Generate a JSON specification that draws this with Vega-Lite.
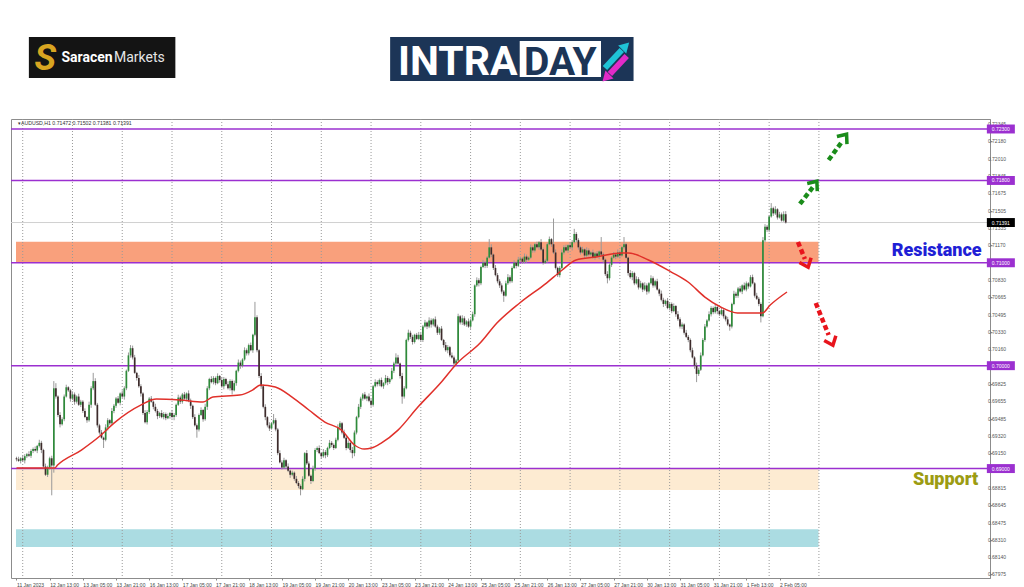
{
"$schema": "https://vega.github.io/schema/vega-lite/v6.json",
"width": 979, "height": 459,
"autosize": {"type": "none"},
"padding": {"left": 11, "top": 119, "right": 34, "bottom": 9},
"background": "white",
"config": {"view": {"stroke": "#8c8c8c", "strokeWidth": 1}, "text": {"font": "Liberation Sans"}, "axis": {"labelOverlap": false}},
"datasets": {
"candles": [
{"i":0,"o":0.69100,"h":0.69115,"l":0.69070,"c":0.69090},
{"i":1,"o":0.69090,"h":0.69115,"l":0.69065,"c":0.69075},
{"i":2,"o":0.69075,"h":0.69110,"l":0.69050,"c":0.69100},
{"i":3,"o":0.69100,"h":0.69130,"l":0.69065,"c":0.69080},
{"i":4,"o":0.69080,"h":0.69140,"l":0.69050,"c":0.69120},
{"i":5,"o":0.69120,"h":0.69152,"l":0.69102,"c":0.69140},
{"i":6,"o":0.69140,"h":0.69168,"l":0.69113,"c":0.69125},
{"i":7,"o":0.69125,"h":0.69188,"l":0.69103,"c":0.69170},
{"i":8,"o":0.69170,"h":0.69205,"l":0.69150,"c":0.69190},
{"i":9,"o":0.69190,"h":0.69215,"l":0.69165,"c":0.69175},
{"i":10,"o":0.69175,"h":0.69230,"l":0.69150,"c":0.69220},
{"i":11,"o":0.69220,"h":0.69280,"l":0.69205,"c":0.69250},
{"i":12,"o":0.69250,"h":0.69270,"l":0.69150,"c":0.69180},
{"i":13,"o":0.69180,"h":0.69192,"l":0.69000,"c":0.69020},
{"i":14,"o":0.69020,"h":0.69048,"l":0.68928,"c":0.68940},
{"i":15,"o":0.68940,"h":0.69028,"l":0.68918,"c":0.69010},
{"i":16,"o":0.69010,"h":0.69115,"l":0.68990,"c":0.69100},
{"i":17,"o":0.69100,"h":0.69125,"l":0.68740,"c":0.69030},
{"i":18,"o":0.69030,"h":0.69850,"l":0.68960,"c":0.69780},
{"i":19,"o":0.69780,"h":0.69830,"l":0.69680,"c":0.69700},
{"i":20,"o":0.69700,"h":0.69712,"l":0.69500,"c":0.69520},
{"i":21,"o":0.69520,"h":0.69548,"l":0.69400,"c":0.69430},
{"i":22,"o":0.69430,"h":0.69498,"l":0.69418,"c":0.69480},
{"i":23,"o":0.69480,"h":0.69720,"l":0.69460,"c":0.69700},
{"i":24,"o":0.69700,"h":0.69815,"l":0.69690,"c":0.69790},
{"i":25,"o":0.69790,"h":0.69800,"l":0.69745,"c":0.69760},
{"i":26,"o":0.69760,"h":0.69775,"l":0.69650,"c":0.69680},
{"i":27,"o":0.69680,"h":0.69750,"l":0.69665,"c":0.69720},
{"i":28,"o":0.69720,"h":0.69740,"l":0.69620,"c":0.69650},
{"i":29,"o":0.69650,"h":0.69712,"l":0.69632,"c":0.69700},
{"i":30,"o":0.69700,"h":0.69728,"l":0.69608,"c":0.69620},
{"i":31,"o":0.69620,"h":0.69668,"l":0.69598,"c":0.69650},
{"i":32,"o":0.69650,"h":0.69665,"l":0.69540,"c":0.69560},
{"i":33,"o":0.69560,"h":0.69585,"l":0.69490,"c":0.69500},
{"i":34,"o":0.69500,"h":0.69510,"l":0.69445,"c":0.69470},
{"i":35,"o":0.69470,"h":0.69650,"l":0.69455,"c":0.69620},
{"i":36,"o":0.69620,"h":0.69800,"l":0.69590,"c":0.69780},
{"i":37,"o":0.69780,"h":0.69930,"l":0.69762,"c":0.69850},
{"i":38,"o":0.69850,"h":0.69878,"l":0.69608,"c":0.69620},
{"i":39,"o":0.69620,"h":0.69638,"l":0.69398,"c":0.69420},
{"i":40,"o":0.69420,"h":0.69435,"l":0.69330,"c":0.69350},
{"i":41,"o":0.69350,"h":0.69375,"l":0.69290,"c":0.69300},
{"i":42,"o":0.69300,"h":0.69310,"l":0.69200,"c":0.69280},
{"i":43,"o":0.69280,"h":0.69430,"l":0.69265,"c":0.69400},
{"i":44,"o":0.69400,"h":0.69490,"l":0.69370,"c":0.69470},
{"i":45,"o":0.69470,"h":0.69482,"l":0.69422,"c":0.69440},
{"i":46,"o":0.69440,"h":0.69588,"l":0.69428,"c":0.69560},
{"i":47,"o":0.69560,"h":0.69628,"l":0.69538,"c":0.69610},
{"i":48,"o":0.69610,"h":0.69695,"l":0.69590,"c":0.69680},
{"i":49,"o":0.69680,"h":0.69705,"l":0.69630,"c":0.69640},
{"i":50,"o":0.69640,"h":0.69740,"l":0.69615,"c":0.69730},
{"i":51,"o":0.69730,"h":0.69760,"l":0.69685,"c":0.69700},
{"i":52,"o":0.69700,"h":0.69800,"l":0.69670,"c":0.69780},
{"i":53,"o":0.69780,"h":0.69962,"l":0.69762,"c":0.69950},
{"i":54,"o":0.69950,"h":0.70128,"l":0.69938,"c":0.70100},
{"i":55,"o":0.70100,"h":0.70200,"l":0.70078,"c":0.70170},
{"i":56,"o":0.70170,"h":0.70195,"l":0.70060,"c":0.70080},
{"i":57,"o":0.70080,"h":0.70105,"l":0.69920,"c":0.69930},
{"i":58,"o":0.69930,"h":0.69940,"l":0.69855,"c":0.69880},
{"i":59,"o":0.69880,"h":0.69910,"l":0.69785,"c":0.69800},
{"i":60,"o":0.69800,"h":0.69820,"l":0.69700,"c":0.69730},
{"i":61,"o":0.69730,"h":0.69742,"l":0.69522,"c":0.69540},
{"i":62,"o":0.69540,"h":0.69568,"l":0.69438,"c":0.69450},
{"i":63,"o":0.69450,"h":0.69568,"l":0.69428,"c":0.69550},
{"i":64,"o":0.69550,"h":0.69695,"l":0.69530,"c":0.69680},
{"i":65,"o":0.69680,"h":0.69705,"l":0.69640,"c":0.69650},
{"i":66,"o":0.69650,"h":0.69660,"l":0.69575,"c":0.69600},
{"i":67,"o":0.69600,"h":0.69630,"l":0.69545,"c":0.69560},
{"i":68,"o":0.69560,"h":0.69580,"l":0.69480,"c":0.69510},
{"i":69,"o":0.69510,"h":0.69552,"l":0.69492,"c":0.69540},
{"i":70,"o":0.69540,"h":0.69568,"l":0.69488,"c":0.69500},
{"i":71,"o":0.69500,"h":0.69548,"l":0.69478,"c":0.69530},
{"i":72,"o":0.69530,"h":0.69545,"l":0.69470,"c":0.69490},
{"i":73,"o":0.69490,"h":0.69535,"l":0.69480,"c":0.69510},
{"i":74,"o":0.69510,"h":0.69550,"l":0.69485,"c":0.69540},
{"i":75,"o":0.69540,"h":0.69570,"l":0.69485,"c":0.69500},
{"i":76,"o":0.69500,"h":0.69540,"l":0.69470,"c":0.69520},
{"i":77,"o":0.69520,"h":0.69632,"l":0.69502,"c":0.69620},
{"i":78,"o":0.69620,"h":0.69718,"l":0.69608,"c":0.69690},
{"i":79,"o":0.69690,"h":0.69708,"l":0.69628,"c":0.69650},
{"i":80,"o":0.69650,"h":0.69735,"l":0.69630,"c":0.69720},
{"i":81,"o":0.69720,"h":0.69745,"l":0.69670,"c":0.69680},
{"i":82,"o":0.69680,"h":0.69740,"l":0.69655,"c":0.69730},
{"i":83,"o":0.69730,"h":0.69760,"l":0.69645,"c":0.69660},
{"i":84,"o":0.69660,"h":0.69680,"l":0.69580,"c":0.69610},
{"i":85,"o":0.69610,"h":0.69622,"l":0.69482,"c":0.69500},
{"i":86,"o":0.69500,"h":0.69528,"l":0.69408,"c":0.69420},
{"i":87,"o":0.69420,"h":0.69438,"l":0.69300,"c":0.69380},
{"i":88,"o":0.69380,"h":0.69535,"l":0.69360,"c":0.69520},
{"i":89,"o":0.69520,"h":0.69595,"l":0.69510,"c":0.69570},
{"i":90,"o":0.69570,"h":0.69580,"l":0.69455,"c":0.69480},
{"i":91,"o":0.69480,"h":0.69630,"l":0.69465,"c":0.69600},
{"i":92,"o":0.69600,"h":0.69800,"l":0.69570,"c":0.69780},
{"i":93,"o":0.69780,"h":0.69882,"l":0.69762,"c":0.69870},
{"i":94,"o":0.69870,"h":0.69898,"l":0.69828,"c":0.69840},
{"i":95,"o":0.69840,"h":0.69898,"l":0.69818,"c":0.69880},
{"i":96,"o":0.69880,"h":0.69895,"l":0.69810,"c":0.69830},
{"i":97,"o":0.69830,"h":0.69925,"l":0.69820,"c":0.69900},
{"i":98,"o":0.69900,"h":0.69910,"l":0.69835,"c":0.69860},
{"i":99,"o":0.69860,"h":0.69890,"l":0.69785,"c":0.69800},
{"i":100,"o":0.69800,"h":0.69890,"l":0.69770,"c":0.69870},
{"i":101,"o":0.69870,"h":0.69882,"l":0.69802,"c":0.69820},
{"i":102,"o":0.69820,"h":0.69848,"l":0.69768,"c":0.69780},
{"i":103,"o":0.69780,"h":0.69868,"l":0.69758,"c":0.69850},
{"i":104,"o":0.69850,"h":0.69865,"l":0.69720,"c":0.69760},
{"i":105,"o":0.69760,"h":0.69855,"l":0.69750,"c":0.69830},
{"i":106,"o":0.69830,"h":0.69960,"l":0.69805,"c":0.69950},
{"i":107,"o":0.69950,"h":0.70060,"l":0.69935,"c":0.70030},
{"i":108,"o":0.70030,"h":0.70050,"l":0.69970,"c":0.70000},
{"i":109,"o":0.70000,"h":0.70072,"l":0.69982,"c":0.70060},
{"i":110,"o":0.70060,"h":0.70178,"l":0.70048,"c":0.70150},
{"i":111,"o":0.70150,"h":0.70168,"l":0.70098,"c":0.70120},
{"i":112,"o":0.70120,"h":0.70215,"l":0.70100,"c":0.70200},
{"i":113,"o":0.70200,"h":0.70225,"l":0.70140,"c":0.70150},
{"i":114,"o":0.70150,"h":0.70310,"l":0.70125,"c":0.70300},
{"i":115,"o":0.70300,"h":0.70620,"l":0.70285,"c":0.70470},
{"i":116,"o":0.70470,"h":0.70490,"l":0.70130,"c":0.70150},
{"i":117,"o":0.70150,"h":0.70160,"l":0.69880,"c":0.69900},
{"i":118,"o":0.69900,"h":0.69928,"l":0.69775,"c":0.69800},
{"i":119,"o":0.69800,"h":0.69818,"l":0.69585,"c":0.69600},
{"i":120,"o":0.69600,"h":0.69625,"l":0.69470,"c":0.69500},
{"i":121,"o":0.69500,"h":0.69510,"l":0.69400,"c":0.69420},
{"i":122,"o":0.69420,"h":0.69450,"l":0.69365,"c":0.69390},
{"i":123,"o":0.69390,"h":0.69452,"l":0.69378,"c":0.69440},
{"i":124,"o":0.69440,"h":0.69530,"l":0.69428,"c":0.69470},
{"i":125,"o":0.69470,"h":0.69490,"l":0.69362,"c":0.69380},
{"i":126,"o":0.69380,"h":0.69395,"l":0.69130,"c":0.69150},
{"i":127,"o":0.69150,"h":0.69178,"l":0.69050,"c":0.69060},
{"i":128,"o":0.69060,"h":0.69080,"l":0.68990,"c":0.69010},
{"i":129,"o":0.69010,"h":0.69105,"l":0.68995,"c":0.69080},
{"i":130,"o":0.69080,"h":0.69090,"l":0.68995,"c":0.69020},
{"i":131,"o":0.69020,"h":0.69050,"l":0.68965,"c":0.68980},
{"i":132,"o":0.68980,"h":0.68990,"l":0.68910,"c":0.68940},
{"i":133,"o":0.68940,"h":0.68980,"l":0.68925,"c":0.68960},
{"i":134,"o":0.68960,"h":0.68972,"l":0.68882,"c":0.68900},
{"i":135,"o":0.68900,"h":0.68928,"l":0.68848,"c":0.68860},
{"i":136,"o":0.68860,"h":0.68878,"l":0.68808,"c":0.68830},
{"i":137,"o":0.68830,"h":0.68845,"l":0.68740,"c":0.68800},
{"i":138,"o":0.68800,"h":0.68925,"l":0.68790,"c":0.68900},
{"i":139,"o":0.68900,"h":0.69160,"l":0.68875,"c":0.69150},
{"i":140,"o":0.69150,"h":0.69180,"l":0.69035,"c":0.69050},
{"i":141,"o":0.69050,"h":0.69070,"l":0.68920,"c":0.68930},
{"i":142,"o":0.68930,"h":0.68942,"l":0.68850,"c":0.68880},
{"i":143,"o":0.68880,"h":0.69028,"l":0.68868,"c":0.69000},
{"i":144,"o":0.69000,"h":0.69198,"l":0.68978,"c":0.69180},
{"i":145,"o":0.69180,"h":0.69215,"l":0.69160,"c":0.69200},
{"i":146,"o":0.69200,"h":0.69225,"l":0.69140,"c":0.69150},
{"i":147,"o":0.69150,"h":0.69160,"l":0.69095,"c":0.69120},
{"i":148,"o":0.69120,"h":0.69190,"l":0.69105,"c":0.69160},
{"i":149,"o":0.69160,"h":0.69180,"l":0.69100,"c":0.69130},
{"i":150,"o":0.69130,"h":0.69212,"l":0.69112,"c":0.69200},
{"i":151,"o":0.69200,"h":0.69278,"l":0.69188,"c":0.69250},
{"i":152,"o":0.69250,"h":0.69268,"l":0.69208,"c":0.69230},
{"i":153,"o":0.69230,"h":0.69245,"l":0.69180,"c":0.69200},
{"i":154,"o":0.69200,"h":0.69300,"l":0.69190,"c":0.69280},
{"i":155,"o":0.69280,"h":0.69430,"l":0.69265,"c":0.69400},
{"i":156,"o":0.69400,"h":0.69460,"l":0.69370,"c":0.69440},
{"i":157,"o":0.69440,"h":0.69452,"l":0.69332,"c":0.69350},
{"i":158,"o":0.69350,"h":0.69378,"l":0.69288,"c":0.69300},
{"i":159,"o":0.69300,"h":0.69318,"l":0.69178,"c":0.69200},
{"i":160,"o":0.69200,"h":0.69275,"l":0.69190,"c":0.69250},
{"i":161,"o":0.69250,"h":0.69260,"l":0.69155,"c":0.69180},
{"i":162,"o":0.69180,"h":0.69210,"l":0.69100,"c":0.69150},
{"i":163,"o":0.69150,"h":0.69370,"l":0.69120,"c":0.69350},
{"i":164,"o":0.69350,"h":0.69512,"l":0.69332,"c":0.69500},
{"i":165,"o":0.69500,"h":0.69628,"l":0.69488,"c":0.69600},
{"i":166,"o":0.69600,"h":0.69698,"l":0.69578,"c":0.69680},
{"i":167,"o":0.69680,"h":0.69735,"l":0.69660,"c":0.69720},
{"i":168,"o":0.69720,"h":0.69745,"l":0.69670,"c":0.69680},
{"i":169,"o":0.69680,"h":0.69710,"l":0.69655,"c":0.69700},
{"i":170,"o":0.69700,"h":0.69730,"l":0.69645,"c":0.69660},
{"i":171,"o":0.69660,"h":0.69680,"l":0.69600,"c":0.69620},
{"i":172,"o":0.69620,"h":0.69812,"l":0.69602,"c":0.69800},
{"i":173,"o":0.69800,"h":0.69868,"l":0.69788,"c":0.69840},
{"i":174,"o":0.69840,"h":0.69858,"l":0.69798,"c":0.69820},
{"i":175,"o":0.69820,"h":0.69875,"l":0.69800,"c":0.69860},
{"i":176,"o":0.69860,"h":0.69885,"l":0.69790,"c":0.69800},
{"i":177,"o":0.69800,"h":0.69840,"l":0.69775,"c":0.69830},
{"i":178,"o":0.69830,"h":0.69910,"l":0.69815,"c":0.69880},
{"i":179,"o":0.69880,"h":0.69900,"l":0.69810,"c":0.69840},
{"i":180,"o":0.69840,"h":0.69882,"l":0.69822,"c":0.69870},
{"i":181,"o":0.69870,"h":0.69978,"l":0.69858,"c":0.69950},
{"i":182,"o":0.69950,"h":0.70038,"l":0.69928,"c":0.70020},
{"i":183,"o":0.70020,"h":0.70120,"l":0.70005,"c":0.70080},
{"i":184,"o":0.70080,"h":0.70105,"l":0.70010,"c":0.70020},
{"i":185,"o":0.70020,"h":0.70030,"l":0.69875,"c":0.69900},
{"i":186,"o":0.69900,"h":0.69930,"l":0.69630,"c":0.69700},
{"i":187,"o":0.69700,"h":0.69800,"l":0.69680,"c":0.69780},
{"i":188,"o":0.69780,"h":0.70262,"l":0.69770,"c":0.70250},
{"i":189,"o":0.70250,"h":0.70350,"l":0.70235,"c":0.70320},
{"i":190,"o":0.70320,"h":0.70340,"l":0.70260,"c":0.70280},
{"i":191,"o":0.70280,"h":0.70300,"l":0.70205,"c":0.70230},
{"i":192,"o":0.70230,"h":0.70310,"l":0.70215,"c":0.70300},
{"i":193,"o":0.70300,"h":0.70318,"l":0.70250,"c":0.70260},
{"i":194,"o":0.70260,"h":0.70328,"l":0.70248,"c":0.70300},
{"i":195,"o":0.70300,"h":0.70318,"l":0.70235,"c":0.70250},
{"i":196,"o":0.70250,"h":0.70395,"l":0.70230,"c":0.70380},
{"i":197,"o":0.70380,"h":0.70445,"l":0.70370,"c":0.70420},
{"i":198,"o":0.70420,"h":0.70430,"l":0.70355,"c":0.70380},
{"i":199,"o":0.70380,"h":0.70470,"l":0.70365,"c":0.70440},
{"i":200,"o":0.70440,"h":0.70460,"l":0.70370,"c":0.70400},
{"i":201,"o":0.70400,"h":0.70462,"l":0.70382,"c":0.70450},
{"i":202,"o":0.70450,"h":0.70478,"l":0.70368,"c":0.70380},
{"i":203,"o":0.70380,"h":0.70398,"l":0.70298,"c":0.70320},
{"i":204,"o":0.70320,"h":0.70375,"l":0.70300,"c":0.70360},
{"i":205,"o":0.70360,"h":0.70385,"l":0.70240,"c":0.70250},
{"i":206,"o":0.70250,"h":0.70260,"l":0.70175,"c":0.70200},
{"i":207,"o":0.70200,"h":0.70230,"l":0.70135,"c":0.70150},
{"i":208,"o":0.70150,"h":0.70200,"l":0.70120,"c":0.70180},
{"i":209,"o":0.70180,"h":0.70192,"l":0.70082,"c":0.70100},
{"i":210,"o":0.70100,"h":0.70128,"l":0.70068,"c":0.70080},
{"i":211,"o":0.70080,"h":0.70098,"l":0.69990,"c":0.70020},
{"i":212,"o":0.70020,"h":0.70065,"l":0.70000,"c":0.70050},
{"i":213,"o":0.70050,"h":0.70505,"l":0.70040,"c":0.70480},
{"i":214,"o":0.70480,"h":0.70492,"l":0.70400,"c":0.70420},
{"i":215,"o":0.70420,"h":0.70490,"l":0.70395,"c":0.70460},
{"i":216,"o":0.70460,"h":0.70480,"l":0.70385,"c":0.70400},
{"i":217,"o":0.70400,"h":0.70442,"l":0.70378,"c":0.70430},
{"i":218,"o":0.70430,"h":0.70458,"l":0.70368,"c":0.70380},
{"i":219,"o":0.70380,"h":0.70458,"l":0.70358,"c":0.70440},
{"i":220,"o":0.70440,"h":0.70525,"l":0.70430,"c":0.70500},
{"i":221,"o":0.70500,"h":0.70790,"l":0.70475,"c":0.70780},
{"i":222,"o":0.70780,"h":0.70858,"l":0.70765,"c":0.70830},
{"i":223,"o":0.70830,"h":0.70850,"l":0.70770,"c":0.70800},
{"i":224,"o":0.70800,"h":0.70972,"l":0.70782,"c":0.70960},
{"i":225,"o":0.70960,"h":0.71028,"l":0.70948,"c":0.71000},
{"i":226,"o":0.71000,"h":0.71018,"l":0.70948,"c":0.70970},
{"i":227,"o":0.70970,"h":0.71065,"l":0.70950,"c":0.71050},
{"i":228,"o":0.71050,"h":0.71230,"l":0.71040,"c":0.71150},
{"i":229,"o":0.71150,"h":0.71180,"l":0.71055,"c":0.71080},
{"i":230,"o":0.71080,"h":0.71090,"l":0.70930,"c":0.70950},
{"i":231,"o":0.70950,"h":0.70978,"l":0.70868,"c":0.70880},
{"i":232,"o":0.70880,"h":0.70900,"l":0.70800,"c":0.70820},
{"i":233,"o":0.70820,"h":0.70840,"l":0.70755,"c":0.70780},
{"i":234,"o":0.70780,"h":0.70800,"l":0.70700,"c":0.70720},
{"i":235,"o":0.70720,"h":0.70735,"l":0.70620,"c":0.70680},
{"i":236,"o":0.70680,"h":0.70825,"l":0.70670,"c":0.70800},
{"i":237,"o":0.70800,"h":0.70890,"l":0.70785,"c":0.70860},
{"i":238,"o":0.70860,"h":0.70878,"l":0.70800,"c":0.70820},
{"i":239,"o":0.70820,"h":0.70965,"l":0.70805,"c":0.70950},
{"i":240,"o":0.70950,"h":0.71025,"l":0.70940,"c":0.71000},
{"i":241,"o":0.71000,"h":0.71012,"l":0.70945,"c":0.70970},
{"i":242,"o":0.70970,"h":0.71058,"l":0.70958,"c":0.71030},
{"i":243,"o":0.71030,"h":0.71060,"l":0.71008,"c":0.71040},
{"i":244,"o":0.71040,"h":0.71055,"l":0.70990,"c":0.71010},
{"i":245,"o":0.71010,"h":0.71090,"l":0.70995,"c":0.71060},
{"i":246,"o":0.71060,"h":0.71080,"l":0.71000,"c":0.71030},
{"i":247,"o":0.71030,"h":0.71062,"l":0.71018,"c":0.71050},
{"i":248,"o":0.71050,"h":0.71178,"l":0.71038,"c":0.71150},
{"i":249,"o":0.71150,"h":0.71168,"l":0.71098,"c":0.71120},
{"i":250,"o":0.71120,"h":0.71195,"l":0.71100,"c":0.71180},
{"i":251,"o":0.71180,"h":0.71205,"l":0.71140,"c":0.71150},
{"i":252,"o":0.71150,"h":0.71210,"l":0.71125,"c":0.71200},
{"i":253,"o":0.71200,"h":0.71230,"l":0.71115,"c":0.71130},
{"i":254,"o":0.71130,"h":0.71148,"l":0.70982,"c":0.71000},
{"i":255,"o":0.71000,"h":0.71038,"l":0.70988,"c":0.71020},
{"i":256,"o":0.71020,"h":0.71195,"l":0.71000,"c":0.71180},
{"i":257,"o":0.71180,"h":0.71255,"l":0.71170,"c":0.71230},
{"i":258,"o":0.71230,"h":0.71240,"l":0.71155,"c":0.71180},
{"i":259,"o":0.71180,"h":0.71430,"l":0.71085,"c":0.71100},
{"i":260,"o":0.71100,"h":0.71130,"l":0.70935,"c":0.70950},
{"i":261,"o":0.70950,"h":0.70962,"l":0.70862,"c":0.70880},
{"i":262,"o":0.70880,"h":0.70968,"l":0.70858,"c":0.70950},
{"i":263,"o":0.70950,"h":0.71128,"l":0.70938,"c":0.71100},
{"i":264,"o":0.71100,"h":0.71170,"l":0.71080,"c":0.71150},
{"i":265,"o":0.71150,"h":0.71175,"l":0.71110,"c":0.71120},
{"i":266,"o":0.71120,"h":0.71180,"l":0.71095,"c":0.71170},
{"i":267,"o":0.71170,"h":0.71200,"l":0.71135,"c":0.71150},
{"i":268,"o":0.71150,"h":0.71220,"l":0.71120,"c":0.71200},
{"i":269,"o":0.71200,"h":0.71330,"l":0.71188,"c":0.71280},
{"i":270,"o":0.71280,"h":0.71298,"l":0.71198,"c":0.71220},
{"i":271,"o":0.71220,"h":0.71238,"l":0.71128,"c":0.71150},
{"i":272,"o":0.71150,"h":0.71165,"l":0.71080,"c":0.71100},
{"i":273,"o":0.71100,"h":0.71155,"l":0.71090,"c":0.71130},
{"i":274,"o":0.71130,"h":0.71140,"l":0.71045,"c":0.71070},
{"i":275,"o":0.71070,"h":0.71150,"l":0.71055,"c":0.71120},
{"i":276,"o":0.71120,"h":0.71140,"l":0.71060,"c":0.71080},
{"i":277,"o":0.71080,"h":0.71112,"l":0.71062,"c":0.71100},
{"i":278,"o":0.71100,"h":0.71128,"l":0.71038,"c":0.71050},
{"i":279,"o":0.71050,"h":0.71105,"l":0.71030,"c":0.71090},
{"i":280,"o":0.71090,"h":0.71115,"l":0.71050,"c":0.71060},
{"i":281,"o":0.71060,"h":0.71120,"l":0.71035,"c":0.71110},
{"i":282,"o":0.71110,"h":0.71250,"l":0.71065,"c":0.71080},
{"i":283,"o":0.71080,"h":0.71100,"l":0.71000,"c":0.71030},
{"i":284,"o":0.71030,"h":0.71042,"l":0.70872,"c":0.70890},
{"i":285,"o":0.70890,"h":0.70918,"l":0.70800,"c":0.70850},
{"i":286,"o":0.70850,"h":0.70998,"l":0.70828,"c":0.70980},
{"i":287,"o":0.70980,"h":0.71065,"l":0.70960,"c":0.71050},
{"i":288,"o":0.71050,"h":0.71105,"l":0.71040,"c":0.71080},
{"i":289,"o":0.71080,"h":0.71092,"l":0.71035,"c":0.71060},
{"i":290,"o":0.71060,"h":0.71130,"l":0.71045,"c":0.71100},
{"i":291,"o":0.71100,"h":0.71120,"l":0.71040,"c":0.71070},
{"i":292,"o":0.71070,"h":0.71162,"l":0.71058,"c":0.71150},
{"i":293,"o":0.71150,"h":0.71250,"l":0.71130,"c":0.71180},
{"i":294,"o":0.71180,"h":0.71195,"l":0.71040,"c":0.71050},
{"i":295,"o":0.71050,"h":0.71060,"l":0.70875,"c":0.70900},
{"i":296,"o":0.70900,"h":0.70930,"l":0.70845,"c":0.70860},
{"i":297,"o":0.70860,"h":0.70918,"l":0.70830,"c":0.70900},
{"i":298,"o":0.70900,"h":0.70912,"l":0.70782,"c":0.70800},
{"i":299,"o":0.70800,"h":0.70868,"l":0.70788,"c":0.70840},
{"i":300,"o":0.70840,"h":0.70860,"l":0.70740,"c":0.70760},
{"i":301,"o":0.70760,"h":0.70825,"l":0.70750,"c":0.70800},
{"i":302,"o":0.70800,"h":0.70810,"l":0.70715,"c":0.70740},
{"i":303,"o":0.70740,"h":0.70810,"l":0.70725,"c":0.70780},
{"i":304,"o":0.70780,"h":0.70800,"l":0.70690,"c":0.70720},
{"i":305,"o":0.70720,"h":0.70812,"l":0.70702,"c":0.70800},
{"i":306,"o":0.70800,"h":0.70878,"l":0.70788,"c":0.70850},
{"i":307,"o":0.70850,"h":0.70868,"l":0.70758,"c":0.70780},
{"i":308,"o":0.70780,"h":0.70835,"l":0.70760,"c":0.70820},
{"i":309,"o":0.70820,"h":0.70845,"l":0.70730,"c":0.70740},
{"i":310,"o":0.70740,"h":0.70750,"l":0.70675,"c":0.70700},
{"i":311,"o":0.70700,"h":0.70730,"l":0.70625,"c":0.70640},
{"i":312,"o":0.70640,"h":0.70660,"l":0.70570,"c":0.70600},
{"i":313,"o":0.70600,"h":0.70642,"l":0.70582,"c":0.70630},
{"i":314,"o":0.70630,"h":0.70658,"l":0.70548,"c":0.70560},
{"i":315,"o":0.70560,"h":0.70618,"l":0.70538,"c":0.70600},
{"i":316,"o":0.70600,"h":0.70615,"l":0.70510,"c":0.70530},
{"i":317,"o":0.70530,"h":0.70605,"l":0.70520,"c":0.70580},
{"i":318,"o":0.70580,"h":0.70590,"l":0.70475,"c":0.70500},
{"i":319,"o":0.70500,"h":0.70530,"l":0.70435,"c":0.70450},
{"i":320,"o":0.70450,"h":0.70470,"l":0.70360,"c":0.70380},
{"i":321,"o":0.70380,"h":0.70420,"l":0.70355,"c":0.70400},
{"i":322,"o":0.70400,"h":0.70412,"l":0.70302,"c":0.70320},
{"i":323,"o":0.70320,"h":0.70348,"l":0.70268,"c":0.70280},
{"i":324,"o":0.70280,"h":0.70298,"l":0.70228,"c":0.70250},
{"i":325,"o":0.70250,"h":0.70265,"l":0.70130,"c":0.70150},
{"i":326,"o":0.70150,"h":0.70175,"l":0.70070,"c":0.70080},
{"i":327,"o":0.70080,"h":0.70092,"l":0.69970,"c":0.70000},
{"i":328,"o":0.70000,"h":0.70030,"l":0.69840,"c":0.69920},
{"i":329,"o":0.69920,"h":0.69980,"l":0.69900,"c":0.69960},
{"i":330,"o":0.69960,"h":0.70128,"l":0.69948,"c":0.70100},
{"i":331,"o":0.70100,"h":0.70268,"l":0.70090,"c":0.70250},
{"i":332,"o":0.70250,"h":0.70405,"l":0.70232,"c":0.70380},
{"i":333,"o":0.70380,"h":0.70452,"l":0.70368,"c":0.70440},
{"i":334,"o":0.70440,"h":0.70528,"l":0.70428,"c":0.70500},
{"i":335,"o":0.70500,"h":0.70578,"l":0.70478,"c":0.70560},
{"i":336,"o":0.70560,"h":0.70575,"l":0.70500,"c":0.70520},
{"i":337,"o":0.70520,"h":0.70600,"l":0.70505,"c":0.70570},
{"i":338,"o":0.70570,"h":0.70588,"l":0.70500,"c":0.70530},
{"i":339,"o":0.70530,"h":0.70542,"l":0.70482,"c":0.70500},
{"i":340,"o":0.70500,"h":0.70568,"l":0.70488,"c":0.70540},
{"i":341,"o":0.70540,"h":0.70558,"l":0.70458,"c":0.70480},
{"i":342,"o":0.70480,"h":0.70495,"l":0.70430,"c":0.70450},
{"i":343,"o":0.70450,"h":0.70475,"l":0.70385,"c":0.70400},
{"i":344,"o":0.70400,"h":0.70410,"l":0.70340,"c":0.70380},
{"i":345,"o":0.70380,"h":0.70612,"l":0.70362,"c":0.70600},
{"i":346,"o":0.70600,"h":0.70728,"l":0.70588,"c":0.70700},
{"i":347,"o":0.70700,"h":0.70718,"l":0.70658,"c":0.70680},
{"i":348,"o":0.70680,"h":0.70765,"l":0.70660,"c":0.70750},
{"i":349,"o":0.70750,"h":0.70775,"l":0.70710,"c":0.70720},
{"i":350,"o":0.70720,"h":0.70790,"l":0.70695,"c":0.70780},
{"i":351,"o":0.70780,"h":0.70808,"l":0.70728,"c":0.70740},
{"i":352,"o":0.70740,"h":0.70818,"l":0.70722,"c":0.70800},
{"i":353,"o":0.70800,"h":0.70812,"l":0.70748,"c":0.70770},
{"i":354,"o":0.70770,"h":0.70880,"l":0.70760,"c":0.70860},
{"i":355,"o":0.70860,"h":0.70885,"l":0.70790,"c":0.70800},
{"i":356,"o":0.70800,"h":0.70812,"l":0.70662,"c":0.70680},
{"i":357,"o":0.70680,"h":0.70708,"l":0.70638,"c":0.70650},
{"i":358,"o":0.70650,"h":0.70668,"l":0.70578,"c":0.70600},
{"i":359,"o":0.70600,"h":0.70615,"l":0.70420,"c":0.70480},
{"i":360,"o":0.70480,"h":0.71250,"l":0.70470,"c":0.71220},
{"i":361,"o":0.71220,"h":0.71375,"l":0.71200,"c":0.71350},
{"i":362,"o":0.71350,"h":0.71368,"l":0.71300,"c":0.71320},
{"i":363,"o":0.71320,"h":0.71462,"l":0.71298,"c":0.71450},
{"i":364,"o":0.71450,"h":0.71580,"l":0.71438,"c":0.71530},
{"i":365,"o":0.71530,"h":0.71545,"l":0.71455,"c":0.71480},
{"i":366,"o":0.71480,"h":0.71550,"l":0.71465,"c":0.71520},
{"i":367,"o":0.71520,"h":0.71530,"l":0.71420,"c":0.71440},
{"i":368,"o":0.71440,"h":0.71495,"l":0.71430,"c":0.71470},
{"i":369,"o":0.71470,"h":0.71488,"l":0.71400,"c":0.71410},
{"i":370,"o":0.71410,"h":0.71500,"l":0.71398,"c":0.71472},
{"i":371,"o":0.71472,"h":0.71502,"l":0.71381,"c":0.71391}
],
"ma": [
{"i":0,"ma":0.69005},{"i":18.4,"ma":0.69005},{"i":19.8,"ma":0.69034},{"i":31.3,"ma":0.6918},{"i":40.8,"ma":0.69326},{"i":47,"ma":0.69442},{"i":59.9,"ma":0.69617},{"i":67.5,"ma":0.69676},{"i":79,"ma":0.69666},{"i":90,"ma":0.69647},{"i":94.7,"ma":0.69695},{"i":107.6,"ma":0.69714},{"i":113.8,"ma":0.69763},{"i":117.7,"ma":0.69812},{"i":124.8,"ma":0.69792},{"i":132.9,"ma":0.69695},{"i":141,"ma":0.69569},{"i":148.7,"ma":0.69452},{"i":156.8,"ma":0.69374},{"i":163,"ma":0.69229},{"i":167.8,"ma":0.6919},{"i":171.1,"ma":0.69199},{"i":175.9,"ma":0.69248},{"i":184,"ma":0.69374},{"i":193.6,"ma":0.69598},{"i":204.5,"ma":0.69831},{"i":212.6,"ma":0.70026},{"i":223.6,"ma":0.7022},{"i":231.7,"ma":0.70414},{"i":242.7,"ma":0.70609},{"i":255.6,"ma":0.70803},{"i":263.2,"ma":0.7093},{"i":269.9,"ma":0.71027},{"i":279.5,"ma":0.71056},{"i":291.9,"ma":0.71095},{"i":295.2,"ma":0.71095},{"i":304.8,"ma":0.71027},{"i":315.8,"ma":0.7091},{"i":323.9,"ma":0.70813},{"i":332,"ma":0.70667},{"i":339.6,"ma":0.7057},{"i":347.7,"ma":0.70512},{"i":355.9,"ma":0.70512},{"i":359.7,"ma":0.70512},{"i":363.5,"ma":0.70589},{"i":371.6,"ma":0.70716}
],
"levels": [
{"level":0.723,"text":"0.72300"},{"level":0.718,"text":"0.71800"},{"level":0.71,"text":"0.71000"},{"level":0.7,"text":"0.70000"},{"level":0.69,"text":"0.69000"}
],
"yticks": [
{"tick":0.72345},{"tick":0.7218},{"tick":0.7201},{"tick":0.71845},{"tick":0.71675},{"tick":0.71505},{"tick":0.71335},{"tick":0.7117},{"tick":0.7083},{"tick":0.70665},{"tick":0.70495},{"tick":0.7033},{"tick":0.7016},{"tick":0.69825},{"tick":0.69655},{"tick":0.69485},{"tick":0.6932},{"tick":0.6915},{"tick":0.68815},{"tick":0.68645},{"tick":0.68475},{"tick":0.6831},{"tick":0.6814},{"tick":0.67975}
]
},
"layer": [
{"data": {"values": [{"zone":"resistance","lo":0.71,"hi":0.71205},{"zone":"support","lo":0.68792,"hi":0.69},{"zone":"demand","lo":0.68238,"hi":0.68411}]},
 "mark": {"type": "rect"},
 "encoding": {
  "x": {"datum": -0.24, "type": "quantitative", "scale": {"type":"linear","domain":[-0.24,467.1],"nice":false,"zero":false}},
  "x2": {"datum": 386.8},
  "y": {"field": "lo", "type": "quantitative", "scale": {"type":"linear","domain":[0.679365,0.723972],"nice":false,"zero":false}, "title": null},
  "y2": {"field": "hi"},
  "color": {"field": "zone", "type": "nominal", "scale": {"domain": ["resistance","support","demand"], "range": ["#F9A07C","#FDEBD2","#ABDCE2"]}, "legend": null}
 }},
{"data": {"values": [{"day":3},{"day":27},{"day":51},{"day":75},{"day":99},{"day":123},{"day":147},{"day":171},{"day":195},{"day":219},{"day":243},{"day":267},{"day":291},{"day":315},{"day":339},{"day":363},{"day":387}]},
 "mark": {"type": "rule", "color": "#9a9a9a", "strokeDash": [1, 2], "strokeWidth": 1},
 "encoding": {"x": {"field": "day", "type": "quantitative", "scale": {"type":"linear","domain":[-0.24,467.1],"nice":false,"zero":false}, "title": null}}},
{"data": {"values": [{"price": 0.71391}]},
 "mark": {"type": "rule", "color": "#d0d0d0", "strokeWidth": 1},
 "encoding": {"y": {"field": "price", "type": "quantitative", "scale": {"type":"linear","domain":[0.679365,0.723972],"nice":false,"zero":false}, "title": null}}},
{"data": {"name": "levels"},
 "mark": {"type": "rule", "color": "#9b30d0", "strokeWidth": 1.5},
 "encoding": {"y": {"field": "level", "type": "quantitative", "scale": {"type":"linear","domain":[0.679365,0.723972],"nice":false,"zero":false}, "title": null}}},
{"data": {"name": "candles"},
 "mark": {"type": "rule", "color": "#9a9a9a", "strokeWidth": 1},
 "encoding": {
  "x": {"field": "i", "type": "quantitative", "scale": {"type":"linear","domain":[-0.24,467.1],"nice":false,"zero":false},
        "axis": {"title": null, "values": [0,16,32,48,64,80,96,112,128,144,160,176,192,208,224,240,256,272,288,304,320,336,352,368],
                 "labelExpr": "['11 Jan 2023','12 Jan 13:00','13 Jan 05:00','13 Jan 21:00','16 Jan 13:00','17 Jan 05:00','17 Jan 21:00','18 Jan 13:00','19 Jan 05:00','19 Jan 21:00','20 Jan 13:00','23 Jan 05:00','23 Jan 21:00','24 Jan 13:00','25 Jan 05:00','25 Jan 21:00','26 Jan 13:00','27 Jan 05:00','27 Jan 21:00','30 Jan 13:00','31 Jan 05:00','31 Jan 21:00','1 Feb 13:00','2 Feb 05:00'][round(datum.value/16)]",
                 "labelAlign": "left", "labelFontSize": 5, "labelFont": "Liberation Sans", "labelColor": "#444444", "labelPadding": 2, "tickSize": 2, "tickColor": "#888888", "domain": false, "grid": false, "labelOverlap": false, "labelBound": false, "labelFlush": false}},
  "y": {"field": "l", "type": "quantitative", "scale": {"type":"linear","domain":[0.679365,0.723972],"nice":false,"zero":false},
        "axis": {"title": null, "orient": "right", "values": [0.72345,0.7218,0.7201,0.71845,0.71675,0.71505,0.71335,0.7117,0.7083,0.70665,0.70495,0.7033,0.7016,0.69825,0.69655,0.69485,0.6932,0.6915,0.68815,0.68645,0.68475,0.6831,0.6814,0.67975],
                 "labels": false, "tickSize": 2, "tickColor": "#888888", "domain": true, "domainColor": "#8c8c8c", "grid": false}},
  "y2": {"field": "h"}
 }},
{"data": {"name": "candles"},
 "mark": {"type": "bar", "width": 1.7},
 "encoding": {
  "x": {"field": "i", "type": "quantitative", "scale": {"type":"linear","domain":[-0.24,467.1],"nice":false,"zero":false}, "title": null},
  "y": {"field": "o", "type": "quantitative", "scale": {"type":"linear","domain":[0.679365,0.723972],"nice":false,"zero":false}, "title": null},
  "y2": {"field": "c"},
  "color": {"condition": {"test": "datum.c >= datum.o", "value": "#2e8b3a"}, "value": "#3d2b2b"}
 }},
{"data": {"name": "ma"},
 "mark": {"type": "line", "color": "#e0302a", "strokeWidth": 1.5, "interpolate": "monotone"},
 "encoding": {
  "x": {"field": "i", "type": "quantitative", "scale": {"type":"linear","domain":[-0.24,467.1],"nice":false,"zero":false}, "title": null},
  "y": {"field": "ma", "type": "quantitative", "scale": {"type":"linear","domain":[0.679365,0.723972],"nice":false,"zero":false}, "title": null}
 }},
{"data": {"name": "yticks"},
 "mark": {"type": "text", "fontSize": 5, "font": "Liberation Sans", "color": "#555555", "align": "left", "baseline": "middle"},
 "encoding": {
  "x": {"datum": 468.5, "type": "quantitative", "scale": {"type":"linear","domain":[-0.24,467.1],"nice":false,"zero":false}},
  "y": {"field": "tick", "type": "quantitative", "scale": {"type":"linear","domain":[0.679365,0.723972],"nice":false,"zero":false}, "title": null},
  "text": {"field": "tick", "type": "quantitative", "format": ".5f"}
 }},
{"data": {"values": [{"arrow":"g1","i":377.84,"p":0.715712},{"arrow":"g1","i":384.52,"p":0.717461},{"arrow":"g2","i":391.68,"p":0.719988},{"arrow":"g2","i":398.37,"p":0.721834}]},
 "mark": {"type": "line", "strokeWidth": 4.5, "strokeDash": [5, 3], "color": "#1a8c1a"},
 "encoding": {
  "x": {"field": "i", "type": "quantitative", "scale": {"type":"linear","domain":[-0.24,467.1],"nice":false,"zero":false}, "title": null},
  "y": {"field": "p", "type": "quantitative", "scale": {"type":"linear","domain":[0.679365,0.723972],"nice":false,"zero":false}, "title": null},
  "detail": {"field": "arrow", "type": "nominal"}
 }},
{"data": {"values": [{"arrow":"r1","i":376.89,"p":0.712019},{"arrow":"r1","i":380.23,"p":0.710367},{"arrow":"r2","i":385.48,"p":0.706091},{"arrow":"r2","i":391.68,"p":0.702981}]},
 "mark": {"type": "line", "strokeWidth": 4.5, "strokeDash": [5, 3], "color": "#e8141c"},
 "encoding": {
  "x": {"field": "i", "type": "quantitative", "scale": {"type":"linear","domain":[-0.24,467.1],"nice":false,"zero":false}, "title": null},
  "y": {"field": "p", "type": "quantitative", "scale": {"type":"linear","domain":[0.679365,0.723972],"nice":false,"zero":false}, "title": null},
  "detail": {"field": "arrow", "type": "nominal"}
 }},
{"data": {"values": [{"i":385.0,"p":0.717655},{"i":399.32,"p":0.722223}]},
 "mark": {"type": "point", "shape": "M -0.9 0.6 L 0 -0.5 L 0.9 0.6", "filled": false, "stroke": "#1a8c1a", "strokeWidth": 3.5, "size": 196, "angle": 37, "opacity": 1},
 "encoding": {
  "x": {"field": "i", "type": "quantitative", "scale": {"type":"linear","domain":[-0.24,467.1],"nice":false,"zero":false}, "title": null},
  "y": {"field": "p", "type": "quantitative", "scale": {"type":"linear","domain":[0.679365,0.723972],"nice":false,"zero":false}, "title": null}
 }},
{"data": {"values": [{"i":381.18,"p":0.709881},{"i":393.12,"p":0.702301}]},
 "mark": {"type": "point", "shape": "M -0.9 0.6 L 0 -0.5 L 0.9 0.6", "filled": false, "stroke": "#e8141c", "strokeWidth": 3.5, "size": 196, "angle": 158, "opacity": 1},
 "encoding": {
  "x": {"field": "i", "type": "quantitative", "scale": {"type":"linear","domain":[-0.24,467.1],"nice":false,"zero":false}, "title": null},
  "y": {"field": "p", "type": "quantitative", "scale": {"type":"linear","domain":[0.679365,0.723972],"nice":false,"zero":false}, "title": null}
 }},
{"data": {"values": [{"label":"Resistance","p":0.711144}]},
 "mark": {"type": "text", "font": "Roboto", "fontWeight": 900, "fontSize": 18, "align": "right", "baseline": "middle", "color": "#1f1fd6"},
 "encoding": {
  "x": {"datum": 465.5, "type": "quantitative", "scale": {"type":"linear","domain":[-0.24,467.1],"nice":false,"zero":false}},
  "y": {"field": "p", "type": "quantitative", "scale": {"type":"linear","domain":[0.679365,0.723972],"nice":false,"zero":false}, "title": null},
  "text": {"field": "label"}
 }},
{"data": {"values": [{"label":"Support","p":0.688889}]},
 "mark": {"type": "text", "font": "Roboto", "fontWeight": 900, "fontSize": 18, "align": "right", "baseline": "middle", "color": "#9c9c12"},
 "encoding": {
  "x": {"datum": 463.8, "type": "quantitative", "scale": {"type":"linear","domain":[-0.24,467.1],"nice":false,"zero":false}},
  "y": {"field": "p", "type": "quantitative", "scale": {"type":"linear","domain":[0.679365,0.723972],"nice":false,"zero":false}, "title": null},
  "text": {"field": "label"}
 }},
{"data": {"name": "levels"},
 "mark": {"type": "point", "shape": "M -1 -0.32 L 1 -0.32 L 1 0.32 L -1 0.32 Z", "filled": true, "color": "#9b30d0", "size": 784, "opacity": 1},
 "encoding": {
  "x": {"datum": 474.75, "type": "quantitative", "scale": {"type":"linear","domain":[-0.24,467.1],"nice":false,"zero":false}},
  "y": {"field": "level", "type": "quantitative", "scale": {"type":"linear","domain":[0.679365,0.723972],"nice":false,"zero":false}, "title": null}
 }},
{"data": {"name": "levels"},
 "mark": {"type": "text", "fontSize": 5, "color": "#ffffff", "align": "center", "baseline": "middle"},
 "encoding": {
  "x": {"datum": 474.75, "type": "quantitative", "scale": {"type":"linear","domain":[-0.24,467.1],"nice":false,"zero":false}},
  "y": {"field": "level", "type": "quantitative", "scale": {"type":"linear","domain":[0.679365,0.723972],"nice":false,"zero":false}, "title": null},
  "text": {"field": "text"}
 }},
{"data": {"values": [{"price":0.71391,"text":"0.71391"}]},
 "mark": {"type": "point", "shape": "M -1 -0.32 L 1 -0.32 L 1 0.32 L -1 0.32 Z", "filled": true, "color": "#000000", "size": 784, "opacity": 1},
 "encoding": {
  "x": {"datum": 474.75, "type": "quantitative", "scale": {"type":"linear","domain":[-0.24,467.1],"nice":false,"zero":false}},
  "y": {"field": "price", "type": "quantitative", "scale": {"type":"linear","domain":[0.679365,0.723972],"nice":false,"zero":false}, "title": null}
 }},
{"data": {"values": [{"price":0.71391,"text":"0.71391"}]},
 "mark": {"type": "text", "fontSize": 5, "color": "#ffffff", "align": "center", "baseline": "middle"},
 "encoding": {
  "x": {"datum": 474.75, "type": "quantitative", "scale": {"type":"linear","domain":[-0.24,467.1],"nice":false,"zero":false}},
  "y": {"field": "price", "type": "quantitative", "scale": {"type":"linear","domain":[0.679365,0.723972],"nice":false,"zero":false}, "title": null},
  "text": {"field": "text"}
 }},
{"data": {"values": [{"text":"▾AUDUSD,H1  0.71472 0.71502 0.71381 0.71391"}]},
 "mark": {"type": "text", "fontSize": 5.2, "color": "#333333", "align": "left", "baseline": "middle"},
 "encoding": {
  "x": {"datum": 0.7, "type": "quantitative", "scale": {"type":"linear","domain":[-0.24,467.1],"nice":false,"zero":false}},
  "y": {"datum": 0.72358, "type": "quantitative", "scale": {"type":"linear","domain":[0.679365,0.723972],"nice":false,"zero":false}},
  "text": {"field": "text"}
 }},
{"data": {"values": [{"logo":"Saracen Markets"}]},
 "mark": {"type": "rect", "color": "#141414"},
 "encoding": {
  "x": {"datum": 5.97, "type": "quantitative", "scale": {"type":"linear","domain":[-0.24,467.1],"nice":false,"zero":false}},
  "x2": {"datum": 76.62},
  "y": {"datum": 0.727956, "type": "quantitative", "scale": {"type":"linear","domain":[0.679365,0.723972],"nice":false,"zero":false}},
  "y2": {"datum": 0.731941}
 }},
{"data": {"values": [{"logo":"INTRADAY"}]},
 "mark": {"type": "rect", "color": "#1c3557"},
 "encoding": {
  "x": {"datum": 180.2, "type": "quantitative", "scale": {"type":"linear","domain":[-0.24,467.1],"nice":false,"zero":false}},
  "x2": {"datum": 297.6},
  "y": {"datum": 0.727665, "type": "quantitative", "scale": {"type":"linear","domain":[0.679365,0.723972],"nice":false,"zero":false}},
  "y2": {"datum": 0.731941}
 }},
{"data": {"values": [{"logo":"DAY box"}]},
 "mark": {"type": "rect", "color": "#ffffff"},
 "encoding": {
  "x": {"datum": 242.7, "type": "quantitative", "scale": {"type":"linear","domain":[-0.24,467.1],"nice":false,"zero":false}},
  "x2": {"datum": 281.9},
  "y": {"datum": 0.728054, "type": "quantitative", "scale": {"type":"linear","domain":[0.679365,0.723972],"nice":false,"zero":false}},
  "y2": {"datum": 0.731552}
 }},
{"data": {"values": [{"text":"S"}]},
 "mark": {"type": "text", "font": "Roboto", "fontWeight": "bold", "fontStyle": "italic", "fontSize": 36, "align": "center", "baseline": "alphabetic", "color": "#d9a521"},
 "encoding": {
  "x": {"datum": 13.84, "type": "quantitative", "scale": {"type":"linear","domain":[-0.24,467.1],"nice":false,"zero":false}},
  "y": {"datum": 0.728737, "type": "quantitative", "scale": {"type":"linear","domain":[0.679365,0.723972],"nice":false,"zero":false}},
  "text": {"field": "text"}
 }},
{"data": {"values": [{"text":"Saracen"}]},
 "mark": {"type": "text", "font": "Roboto", "fontWeight": "bold", "fontSize": 14, "align": "left", "baseline": "alphabetic", "color": "#ffffff"},
 "encoding": {
  "x": {"datum": 21.7, "type": "quantitative", "scale": {"type":"linear","domain":[-0.24,467.1],"nice":false,"zero":false}},
  "y": {"datum": 0.729511, "type": "quantitative", "scale": {"type":"linear","domain":[0.679365,0.723972],"nice":false,"zero":false}},
  "text": {"field": "text"}
 }},
{"data": {"values": [{"text":"Markets"}]},
 "mark": {"type": "text", "font": "Roboto", "fontWeight": "normal", "fontSize": 14, "align": "left", "baseline": "alphabetic", "color": "#e6e6e6"},
 "encoding": {
  "x": {"datum": 47.0, "type": "quantitative", "scale": {"type":"linear","domain":[-0.24,467.1],"nice":false,"zero":false}},
  "y": {"datum": 0.729511, "type": "quantitative", "scale": {"type":"linear","domain":[0.679365,0.723972],"nice":false,"zero":false}},
  "text": {"field": "text"}
 }},
{"data": {"values": [{"text":"INTRA"}]},
 "mark": {"type": "text", "font": "Roboto", "fontWeight": "bold", "fontSize": 41, "align": "left", "baseline": "alphabetic", "color": "#ffffff"},
 "encoding": {
  "x": {"datum": 184.0, "type": "quantitative", "scale": {"type":"linear","domain":[-0.24,467.1],"nice":false,"zero":false}},
  "y": {"datum": 0.728248, "type": "quantitative", "scale": {"type":"linear","domain":[0.679365,0.723972],"nice":false,"zero":false}},
  "text": {"field": "text"}
 }},
{"data": {"values": [{"text":"DAY"}]},
 "mark": {"type": "text", "font": "Roboto", "fontWeight": "bold", "fontSize": 39, "align": "center", "baseline": "alphabetic", "color": "#1c3557"},
 "encoding": {
  "x": {"datum": 262.3, "type": "quantitative", "scale": {"type":"linear","domain":[-0.24,467.1],"nice":false,"zero":false}},
  "y": {"datum": 0.728248, "type": "quantitative", "scale": {"type":"linear","domain":[0.679365,0.723972],"nice":false,"zero":false}},
  "text": {"field": "text"}
 }},
{"data": {"values": [{"i":283.8,"p":0.728928},{"i":291.9,"p":0.730678}]},
 "mark": {"type": "line", "strokeWidth": 6, "color": "#1fc3d6"},
 "encoding": {
  "x": {"field": "i", "type": "quantitative", "scale": {"type":"linear","domain":[-0.24,467.1],"nice":false,"zero":false}, "title": null},
  "y": {"field": "p", "type": "quantitative", "scale": {"type":"linear","domain":[0.679365,0.723972],"nice":false,"zero":false}, "title": null}
 }},
{"data": {"values": [{"i":294.3,"p":0.730094},{"i":286.2,"p":0.728345}]},
 "mark": {"type": "line", "strokeWidth": 6, "color": "#e22bc8"},
 "encoding": {
  "x": {"field": "i", "type": "quantitative", "scale": {"type":"linear","domain":[-0.24,467.1],"nice":false,"zero":false}, "title": null},
  "y": {"field": "p", "type": "quantitative", "scale": {"type":"linear","domain":[0.679365,0.723972],"nice":false,"zero":false}, "title": null}
 }},
{"data": {"values": [{"i":293.8,"p":0.731066}]},
 "mark": {"type": "point", "shape": "triangle-up", "filled": true, "color": "#1fc3d6", "size": 130, "angle": 45, "opacity": 1},
 "encoding": {
  "x": {"field": "i", "type": "quantitative", "scale": {"type":"linear","domain":[-0.24,467.1],"nice":false,"zero":false}, "title": null},
  "y": {"field": "p", "type": "quantitative", "scale": {"type":"linear","domain":[0.679365,0.723972],"nice":false,"zero":false}, "title": null}
 }},
{"data": {"values": [{"i":284.3,"p":0.727956}]},
 "mark": {"type": "point", "shape": "triangle-up", "filled": true, "color": "#e22bc8", "size": 130, "angle": 225, "opacity": 1},
 "encoding": {
  "x": {"field": "i", "type": "quantitative", "scale": {"type":"linear","domain":[-0.24,467.1],"nice":false,"zero":false}, "title": null},
  "y": {"field": "p", "type": "quantitative", "scale": {"type":"linear","domain":[0.679365,0.723972],"nice":false,"zero":false}, "title": null}
 }}
]
}
